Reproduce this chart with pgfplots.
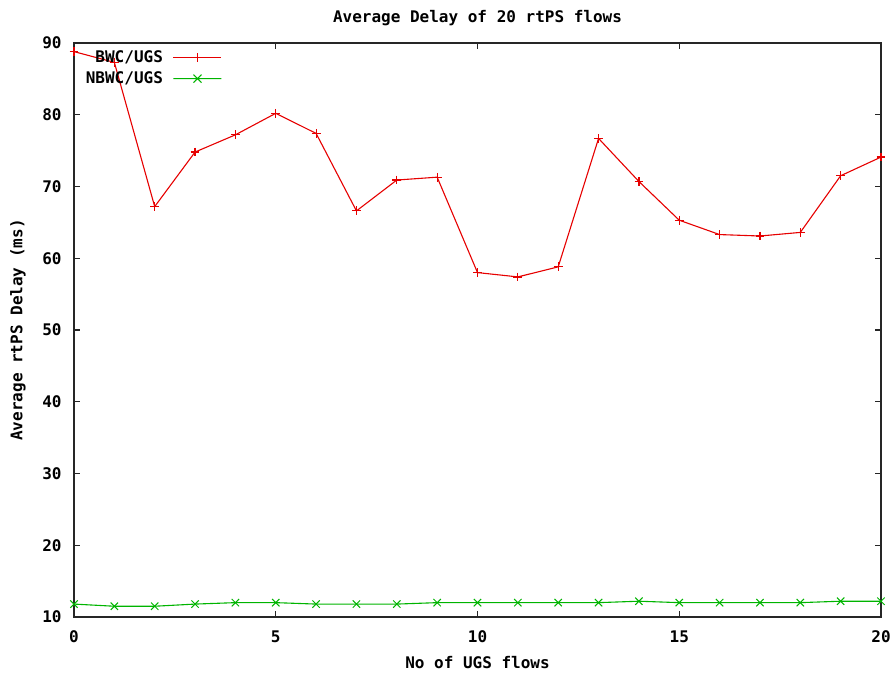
\documentclass[border=0pt]{standalone}
\usepackage{fontspec}
\setmainfont{DejaVu Sans Mono}[BoldFont={DejaVu Sans Mono Bold}]
\usepackage{pgfplots}
\pgfplotsset{compat=1.18}
\definecolor{gpred}{RGB}{230,0,0}
\definecolor{gpgreen}{RGB}{0,180,0}

\pgfplotstableread{
x bwc nbwc
0 88.8 11.8
1 87.3 11.5
2 67.2 11.5
3 74.8 11.8
4 77.2 12.0
5 80.2 12.0
6 77.4 11.8
7 66.6 11.8
8 70.9 11.8
9 71.3 12.0
10 58.0 12.0
11 57.4 12.0
12 58.8 12.0
13 76.7 12.0
14 70.7 12.2
15 65.3 12.0
16 63.3 12.0
17 63.1 12.0
18 63.6 12.0
19 71.5 12.2
20 74.1 12.2
}\delaydata

\begin{document}
\fontsize{8bp}{9.5bp}\selectfont\bfseries
\begin{tikzpicture}
\begin{axis}[
    at={(0,0)}, anchor=south west,
    scale only axis,
    width=403.5bp, height=287bp,
    xmin=0, xmax=20, ymin=10, ymax=90,
    xtick={0,5,...,20}, ytick={10,20,...,90},
    minor tick num=0,
    tick align=inside,
    major tick length=3bp,
    axis line style={black!85, line width=0.9bp},
    every tick/.style={black!85, line width=0.7bp},
    /pgf/number format/assume math mode=true,
    tick label style={font=\fontsize{8bp}{9.5bp}\selectfont\bfseries},
    xticklabel style={anchor=center, yshift=-10bp},
    yticklabel style={anchor=east, inner sep=0pt, xshift=-6bp},
    title={Average Delay of 20 rtPS flows},
    title style={at={(0.5,1)}, anchor=center, yshift=6.5bp},
    xlabel={No of UGS flows},
    xlabel style={at={(0.5,0)}, anchor=center, yshift=-23bp},
    ylabel={Average rtPS Delay (ms)},
    ylabel style={at={(0,0.5)}, anchor=center, yshift=28bp},
    legend plot pos=right,
    legend cell align=right,
    legend style={draw=none, fill=none, at={(0.184,0.995)}, anchor=north east,
        row sep=-0.5bp, column sep=3bp, inner sep=0pt,
        font=\fontsize{8bp}{9.5bp}\selectfont\bfseries},
]
\addplot[gpred, line width=0.55bp, mark=+, mark size=2.2bp,
    mark options={gpred, line width=0.6bp},
    legend image code/.code={\draw[gpred, line width=0.6bp]
        (0bp,0bp) -- (24bp,0bp) (12bp,-2.2bp) -- (12bp,2.2bp);}]
    table[x=x, y=bwc] {\delaydata};
\addlegendentry{BWC/UGS}
\addplot[gpgreen, line width=0.55bp, mark=x, mark size=2.6bp,
    mark options={gpgreen, line width=0.5bp},
    legend image code/.code={\draw[gpgreen, line width=0.6bp]
        (0bp,0bp) -- (24bp,0bp) (10bp,-2bp) -- (14bp,2bp) (10bp,2bp) -- (14bp,-2bp);}]
    table[x=x, y=nbwc] {\delaydata};
\addlegendentry{NBWC/UGS}
\end{axis}
\pgfresetboundingbox
\path (-37bp,-28bp) rectangle (410.5bp,308.5bp);
\end{tikzpicture}
\end{document}
